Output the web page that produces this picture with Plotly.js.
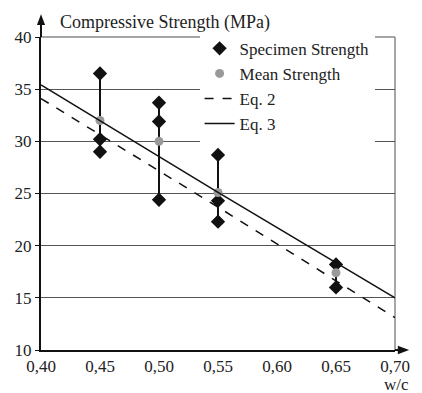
<!DOCTYPE html>
<html><head><meta charset="utf-8">
<script src="https://cdn.plot.ly/plotly-3.0.1.min.js"></script>
</head><body style="margin:0;padding:0;background:#fff">
<div id="chart" style="width:422px;height:393px"></div>
<script>
// Specimen strengths (MPa) per w/c
const specimenWC = [0.45,0.45,0.45, 0.50,0.50,0.50, 0.55,0.55,0.55, 0.65,0.65];
const specimenStrength = [36.5,30.2,29.0, 33.7,31.9,24.4, 28.7,24.3,22.3, 18.2,16.0];
// Mean strengths
const meanWC = [0.45,0.50,0.55,0.65];
const meanStrength = [32.0,30.0,25.1,17.4];
// Range (min/max) per group for vertical bars
const rangeMin = [29.0,24.4,22.3,16.0];
const rangeMax = [36.5,33.7,28.7,18.2];
// Equation lines
const eqWC = [0.40,0.55,0.70];
const eq2 = [34.1,23.7,13.1];
const eq3 = [35.4,25.1,15.0];

const FONT = 'Liberation Serif';
const traces = [];
meanWC.forEach((x,i)=>{
  traces.push({x:[x,x], y:[rangeMin[i],rangeMax[i]], mode:'lines', line:{color:'#111',width:2}, showlegend:false, hoverinfo:'skip'});
});
traces.push({x:specimenWC, y:specimenStrength, mode:'markers', name:'Specimen Strength',
  marker:{symbol:'diamond', size:11, color:'#111'}});
traces.push({x:meanWC, y:meanStrength, mode:'markers', name:'Mean Strength',
  marker:{symbol:'circle', size:9, color:'#999'}});
traces.push({x:eqWC, y:eq2, mode:'lines', name:'Eq. 2', line:{color:'#111', width:1.5, dash:'dash'}});
traces.push({x:eqWC, y:eq3, mode:'lines', name:'Eq. 3', line:{color:'#111', width:1.5}});

const layout = {
  width:422, height:393,
  margin:{l:41, r:27, t:37, b:43},
  paper_bgcolor:'#fff', plot_bgcolor:'#fff',
  separators:',.',
  showlegend:true,
  legend:{x:0.448, y:1.02, xanchor:'left', yanchor:'top', bgcolor:'#fff', borderwidth:0,
    font:{family:FONT, size:17, color:'#222'}, tracegroupgap:0},
  xaxis:{range:[0.40,0.70], tickvals:[0.40,0.45,0.50,0.55,0.60,0.65,0.70], tickformat:'.2f',
    showgrid:false, zeroline:false, showline:true, linecolor:'#111', linewidth:2,
    ticks:'', tickfont:{family:FONT, size:17, color:'#222'}},
  yaxis:{range:[10,40], tickvals:[10,15,20,25,30,35,40], showgrid:true, gridcolor:'#555', gridwidth:1,
    zeroline:false, showline:true, linecolor:'#111', linewidth:2,
    ticks:'outside', ticklen:4, tickcolor:'#111', tickfont:{family:FONT, size:17, color:'#222'}},
  shapes:[
    {type:'line', xref:'paper', yref:'paper', x0:0, x1:1, y0:1, y1:1, line:{color:'#888', width:1.5}, layer:'below'},
    {type:'line', xref:'paper', yref:'paper', x0:1, x1:1, y0:0, y1:1, line:{color:'#888', width:1.5}, layer:'below'},
    {type:'line', xref:'paper', yref:'paper', x0:0, x1:0, y0:1, y1:1.045, line:{color:'#111', width:2}},
    {type:'line', xref:'paper', yref:'paper', x0:1, x1:1.015, y0:0, y1:0, line:{color:'#111', width:2}},
    {type:'path', xref:'paper', yref:'paper', path:'M -0.0115 1.038 L 0.0115 1.038 L 0 1.073 Z', fillcolor:'#111', line:{width:0}},
    {type:'path', xref:'paper', yref:'paper', path:'M 1.008 0.0135 L 1.008 -0.0135 L 1.04 0 Z', fillcolor:'#111', line:{width:0}}
  ],
  annotations:[
    {text:'Compressive Strength (MPa)', xref:'paper', yref:'paper', x:0.048, y:1.045, xanchor:'left', yanchor:'middle',
      showarrow:false, font:{family:FONT, size:18, color:'#222'}},
    {text:'w/c', xref:'paper', yref:'paper', x:1.045, y:-0.075, xanchor:'right', yanchor:'top',
      showarrow:false, font:{family:FONT, size:17, color:'#222'}}
  ]
};
Plotly.newPlot('chart', traces, layout, {staticPlot:true});
</script></body></html>
